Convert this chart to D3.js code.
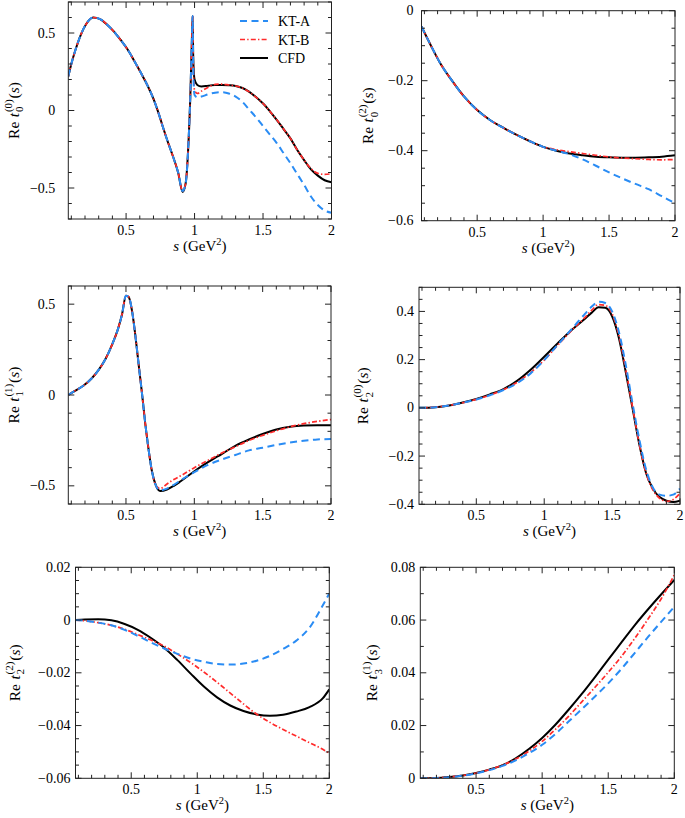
<!DOCTYPE html>
<html><head><meta charset="utf-8">
<script src="https://cdn.jsdelivr.net/npm/d3@7"></script>
<style>
body{margin:0;background:#fff}
svg{display:block}
</style>
</head><body>
<svg id="c" width="685" height="818"></svg>
<script>
// ---------------- DATA ----------------
const X_TICKS = [0.5, 1, 1.5, 2];
const X_TICK_LABELS = ["0.5", "1", "1.5", "2"];
const SERIES_NAMES = ["KT-A", "KT-B", "CFD"];

// Re t0^(0)
const S_T00 = [0.078,0.1,0.13,0.17,0.21,0.26,0.31,0.36,0.41,0.46,0.51,0.56,0.61,0.66,0.70,0.74,0.77,0.80,0.84,0.88,0.913,0.935,0.955,0.970,0.980,0.986,0.990,0.995,1.00,1.02,1.05,1.10,1.15,1.20,1.25,1.30,1.35,1.40,1.45,1.50,1.55,1.60,1.65,1.70,1.75,1.80,1.85,1.90,1.95,2.00];
const T00_CFD = [0.22,0.30,0.39,0.49,0.56,0.60,0.59,0.555,0.51,0.455,0.395,0.32,0.24,0.155,0.075,-0.025,-0.11,-0.19,-0.29,-0.40,-0.525,-0.47,-0.22,0.12,0.44,0.61,0.36,0.24,0.20,0.165,0.155,0.16,0.165,0.165,0.163,0.158,0.145,0.12,0.085,0.045,-0.005,-0.06,-0.12,-0.18,-0.255,-0.32,-0.38,-0.42,-0.45,-0.463];
const T00_KTB = [0.22,0.30,0.39,0.49,0.56,0.60,0.59,0.555,0.51,0.455,0.395,0.32,0.24,0.155,0.075,-0.025,-0.11,-0.19,-0.29,-0.40,-0.52,-0.47,-0.22,0.12,0.44,0.61,0.34,0.18,0.13,0.11,0.125,0.15,0.168,0.17,0.165,0.158,0.145,0.12,0.085,0.045,-0.005,-0.06,-0.12,-0.18,-0.255,-0.32,-0.375,-0.405,-0.412,-0.408];
const T00_KTA = [0.22,0.30,0.39,0.49,0.56,0.60,0.59,0.555,0.51,0.455,0.395,0.32,0.24,0.155,0.075,-0.025,-0.11,-0.19,-0.29,-0.40,-0.52,-0.47,-0.22,0.12,0.44,0.61,0.30,0.14,0.10,0.085,0.09,0.105,0.115,0.118,0.11,0.09,0.055,0.005,-0.045,-0.10,-0.155,-0.21,-0.275,-0.34,-0.41,-0.48,-0.555,-0.61,-0.645,-0.66];
const T00_Y_TICKS = [-0.5, 0, 0.5];
const T00_Y_LABELS = ["−0.5", "0", "0.5"];

// Re t0^(2)
const S_T02 = [0.078,0.15,0.22,0.3,0.4,0.5,0.6,0.7,0.8,0.9,1.0,1.1,1.2,1.3,1.4,1.5,1.6,1.7,1.8,1.9,2.0];
const T02_CFD = [-0.045,-0.10,-0.15,-0.195,-0.245,-0.284,-0.313,-0.335,-0.355,-0.373,-0.389,-0.40,-0.408,-0.413,-0.417,-0.419,-0.42,-0.42,-0.419,-0.417,-0.413];
const T02_KTB = [-0.045,-0.10,-0.15,-0.195,-0.245,-0.284,-0.313,-0.335,-0.355,-0.373,-0.389,-0.397,-0.403,-0.408,-0.413,-0.418,-0.421,-0.423,-0.425,-0.426,-0.425];
const T02_KTA = [-0.045,-0.10,-0.15,-0.195,-0.245,-0.284,-0.313,-0.335,-0.355,-0.373,-0.389,-0.40,-0.41,-0.425,-0.443,-0.462,-0.479,-0.495,-0.51,-0.53,-0.55];
const T02_Y_TICKS = [-0.6, -0.4, -0.2, 0];
const T02_Y_LABELS = ["−0.6", "−0.4", "−0.2", "0"];

// Re t1^(1)
const S_T11 = [0.078,0.12,0.19,0.25,0.3,0.35,0.4,0.44,0.47,0.5,0.52,0.545,0.565,0.585,0.6,0.62,0.64,0.66,0.69,0.72,0.75,0.8,0.85,0.9,1.0,1.1,1.2,1.3,1.4,1.5,1.6,1.7,1.8,1.9,2.0];
const T11_CFD = [0,0.02,0.052,0.092,0.138,0.198,0.28,0.36,0.44,0.547,0.54,0.46,0.35,0.22,0.12,-0.01,-0.15,-0.27,-0.42,-0.50,-0.528,-0.52,-0.50,-0.475,-0.42,-0.37,-0.325,-0.28,-0.245,-0.215,-0.19,-0.175,-0.168,-0.166,-0.167];
const T11_KTB = [0,0.02,0.052,0.092,0.138,0.198,0.28,0.36,0.44,0.547,0.54,0.46,0.35,0.22,0.12,-0.01,-0.15,-0.27,-0.42,-0.50,-0.515,-0.49,-0.465,-0.445,-0.40,-0.36,-0.32,-0.285,-0.25,-0.222,-0.197,-0.175,-0.158,-0.145,-0.135];
const T11_KTA = [0,0.02,0.052,0.092,0.138,0.198,0.28,0.36,0.44,0.547,0.54,0.46,0.35,0.22,0.12,-0.01,-0.15,-0.27,-0.42,-0.50,-0.525,-0.515,-0.495,-0.47,-0.425,-0.385,-0.355,-0.33,-0.305,-0.29,-0.275,-0.262,-0.252,-0.245,-0.242];
const T11_Y_TICKS = [-0.5, 0, 0.5];
const T11_Y_LABELS = ["−0.5", "0", "0.5"];

// Re t2^(0)
const S_T20 = [0.078,0.2,0.3,0.4,0.5,0.6,0.7,0.8,0.9,1.0,1.1,1.2,1.3,1.35,1.4,1.45,1.5,1.55,1.6,1.65,1.7,1.75,1.8,1.85,1.9,1.95,2.0];
const T20_CFD = [0,0.003,0.01,0.022,0.037,0.056,0.078,0.112,0.158,0.212,0.268,0.322,0.37,0.395,0.417,0.415,0.38,0.29,0.15,0.0,-0.15,-0.27,-0.335,-0.37,-0.385,-0.39,-0.385];
const T20_KTB = [0,0.003,0.01,0.021,0.035,0.053,0.076,0.106,0.147,0.198,0.26,0.32,0.375,0.405,0.428,0.425,0.39,0.30,0.16,0.005,-0.15,-0.27,-0.34,-0.375,-0.388,-0.38,-0.355];
const T20_KTA = [0,0.003,0.01,0.021,0.035,0.052,0.074,0.102,0.143,0.198,0.262,0.325,0.39,0.42,0.44,0.435,0.40,0.315,0.18,0.02,-0.13,-0.255,-0.33,-0.36,-0.365,-0.36,-0.335];
const T20_Y_TICKS = [-0.4, -0.2, 0, 0.2, 0.4];
const T20_Y_LABELS = ["−0.4", "−0.2", "0", "0.2", "0.4"];

// Re t2^(2)
const S_T22 = [0.078,0.15,0.25,0.35,0.45,0.55,0.65,0.75,0.85,0.95,1.05,1.15,1.25,1.35,1.45,1.55,1.65,1.75,1.85,1.95,2.0];
const T22_CFD = [0,0.0002,0.0003,-0.0001,-0.0015,-0.0037,-0.0068,-0.0105,-0.0152,-0.0203,-0.0252,-0.0293,-0.0324,-0.0345,-0.0358,-0.0363,-0.0359,-0.0347,-0.033,-0.0297,-0.0263];
const T22_KTB = [0,-0.0003,-0.001,-0.002,-0.0035,-0.0055,-0.0076,-0.0099,-0.0129,-0.0161,-0.0197,-0.0236,-0.0277,-0.0318,-0.0357,-0.0388,-0.0415,-0.044,-0.0465,-0.049,-0.0505];
const T22_KTA = [0,-0.0003,-0.001,-0.002,-0.0037,-0.006,-0.0085,-0.0108,-0.0128,-0.0146,-0.0158,-0.0167,-0.0169,-0.0165,-0.0154,-0.0136,-0.011,-0.0078,-0.0029,0.0055,0.0101];
const T22_Y_TICKS = [-0.06, -0.04, -0.02, 0, 0.02];
const T22_Y_LABELS = ["−0.06", "−0.04", "−0.02", "0", "0.02"];

// Re t3^(1)
const S_T31 = [0.078,0.2,0.3,0.4,0.5,0.6,0.7,0.8,0.9,1.0,1.1,1.2,1.3,1.4,1.5,1.6,1.7,1.8,1.9,2.0];
const T31_CFD = [0,0.0001,0.0005,0.0011,0.002,0.0033,0.005,0.0076,0.0111,0.0153,0.0203,0.026,0.032,0.0384,0.045,0.0515,0.058,0.064,0.0697,0.0752];
const T31_KTB = [0,0.0001,0.0005,0.0011,0.002,0.0033,0.005,0.0073,0.0103,0.014,0.0185,0.0235,0.029,0.0345,0.0402,0.0462,0.053,0.0603,0.068,0.0771];
const T31_KTA = [0,0.0001,0.0004,0.001,0.0019,0.0031,0.0047,0.0068,0.0095,0.0127,0.0168,0.0215,0.0262,0.031,0.036,0.0415,0.0475,0.0535,0.0593,0.065];
const T31_Y_TICKS = [0, 0.02, 0.04, 0.06, 0.08];
const T31_Y_LABELS = ["0", "0.02", "0.04", "0.06", "0.08"];

// ---------------- LAYOUT ----------------
const panels = [
  {box:[68.3,2,331.5,219], yDom:[-0.7,0.7], yMinor:0.1, s:S_T00, A:T00_KTA, B:T00_KTB, C:T00_CFD, yt:T00_Y_TICKS, yl:T00_Y_LABELS, sup:"(0)", sub:"0", labelX:18.5, pad:13, legend:true},
  {box:[421.5,10.7,675,220.7], yDom:[-0.6,0], yMinor:0.05, s:S_T02, A:T02_KTA, B:T02_KTB, C:T02_CFD, yt:T02_Y_TICKS, yl:T02_Y_LABELS, sup:"(2)", sub:"0", labelX:373, pad:8},
  {box:[68.3,286,331,504], yDom:[-0.6,0.6], yMinor:0.1, s:S_T11, A:T11_KTA, B:T11_KTB, C:T11_CFD, yt:T11_Y_TICKS, yl:T11_Y_LABELS, sup:"(1)", sub:"1", labelX:18.5, pad:13},
  {box:[419,287.3,680,504.3], yDom:[-0.4,0.5], yMinor:0.05, s:S_T20, A:T20_KTA, B:T20_KTB, C:T20_CFD, yt:T20_Y_TICKS, yl:T20_Y_LABELS, sup:"(0)", sub:"2", labelX:368, pad:5},
  {box:[75.5,567.3,329.3,778.3], yDom:[-0.06,0.02], yMinor:0.005, s:S_T22, A:T22_KTA, B:T22_KTB, C:T22_CFD, yt:T22_Y_TICKS, yl:T22_Y_LABELS, sup:"(2)", sub:"2", labelX:19.5, pad:5},
  {box:[420.3,567.3,674.3,778.3], yDom:[0,0.08], yMinor:0.01, s:S_T31, A:T31_KTA, B:T31_KTB, C:T31_CFD, yt:T31_Y_TICKS, yl:T31_Y_LABELS, sup:"(1)", sub:"3", labelX:377, pad:5}
];

const styles = {
  C:{color:"#000000", width:2.0, dash:null},
  B:{color:"#ff2b2b", width:1.7, dash:"5,2.2,1.4,2.2"},
  A:{color:"#2a8cf4", width:2.0, dash:"7,4.5"}
};

const svg = d3.select("#c");

// pick an installed serif face by measuring against monospace fallback
function pickFont() {
  const cands = ["Liberation Serif", "DejaVu Serif", "Noto Serif", "Times New Roman", "Tinos", "FreeSerif"];
  const probe = "abcdefghijklmnopqrstuvwxyz ABCDEFGHIJKLMNOPQRSTUVWXYZ 0123456789";
  const t = svg.append("text").attr("font-size", 40).attr("y", -100).text(probe);
  const w = f => { t.attr("font-family", f); return t.node().getComputedTextLength(); };
  const base1 = w("monospace"), base2 = w("sans-serif");
  let found = null;
  for (const c of cands) {
    const a = w(`"${c}", monospace`), b = w(`"${c}", sans-serif`);
    if (Math.abs(a - base1) > 0.5 && Math.abs(b - base2) > 0.5) { found = c; break; }
    if (Math.abs(a - b) < 0.01 && Math.abs(a - base1) > 0.5) { found = c; break; }
  }
  t.remove();
  return found ? `"${found}", serif` : "serif";
}
const FONT = pickFont();
const FS = 14;

function txt(sel) { return sel.append("text").attr("font-family", FONT).attr("fill", "#000"); }

panels.forEach((p, i) => {
  const [x0, y0, x1, y1] = p.box;
  const x = d3.scaleLinear().domain([0.078, 2]).range([x0, x1]);
  const y = d3.scaleLinear().domain(p.yDom).range([y1, y0]);
  const g = svg.append("g");

  const clipId = "clip" + i;
  g.append("clipPath").attr("id", clipId).append("rect")
    .attr("x", x0).attr("y", y0).attr("width", x1 - x0).attr("height", y1 - y0);

  const line = d3.line().x(d => x(d[0])).y(d => y(d[1])).curve(d3.curveMonotoneX);
  ["C","B","A"].forEach(k => {
    const st = styles[k];
    const pts = p.s.map((s, j) => [s, p[k][j]]);
    g.append("path").attr("clip-path", `url(#${clipId})`)
      .attr("d", line(pts)).attr("fill", "none")
      .attr("stroke", st.color).attr("stroke-width", st.width)
      .attr("stroke-dasharray", st.dash)
      .attr("stroke-linejoin", "round");
  });

  g.append("rect").attr("x", x0).attr("y", y0).attr("width", x1 - x0).attr("height", y1 - y0)
    .attr("fill", "none").attr("stroke", "#222").attr("stroke-width", 1);

  const tk = g.append("g").attr("stroke", "#222").attr("stroke-width", 1);
  const xMinor = d3.range(0.1, 2.0001, 0.1).filter(v => Math.abs(v * 2 - Math.round(v * 2)) > 1e-6);
  xMinor.forEach(v => {
    tk.append("line").attr("x1", x(v)).attr("x2", x(v)).attr("y1", y1).attr("y2", y1 - 3.5);
    tk.append("line").attr("x1", x(v)).attr("x2", x(v)).attr("y1", y0).attr("y2", y0 + 3.5);
  });
  X_TICKS.forEach(v => {
    tk.append("line").attr("x1", x(v)).attr("x2", x(v)).attr("y1", y1).attr("y2", y1 - 6);
    tk.append("line").attr("x1", x(v)).attr("x2", x(v)).attr("y1", y0).attr("y2", y0 + 6);
  });
  const [ya, yb] = p.yDom;
  const nMin = Math.round((yb - ya) / p.yMinor);
  for (let k = 0; k <= nMin; k++) {
    const v = ya + k * p.yMinor;
    const isMajor = p.yt.some(t => Math.abs(t - v) < p.yMinor * 1e-3);
    const L = isMajor ? 6 : 3.5;
    tk.append("line").attr("x1", x0).attr("x2", x0 + L).attr("y1", y(v)).attr("y2", y(v));
    tk.append("line").attr("x1", x1).attr("x2", x1 - L).attr("y1", y(v)).attr("y2", y(v));
  }

  X_TICKS.forEach((v, j) => {
    txt(g).attr("x", x(v)).attr("y", y1 + 16).attr("text-anchor", "middle")
      .attr("font-size", FS).text(X_TICK_LABELS[j]);
  });
  p.yt.forEach((v, j) => {
    txt(g).attr("x", x0 - p.pad).attr("y", y(v) + 4.5).attr("text-anchor", "end")
      .attr("font-size", FS).text(p.yl[j]);
  });

  const xl = txt(g).attr("x", (x0 + x1) / 2).attr("y", y1 + 32)
    .attr("text-anchor", "middle").attr("font-size", 15);
  xl.append("tspan").attr("font-style", "italic").text("s");
  xl.append("tspan").text(" (GeV");
  xl.append("tspan").attr("font-size", 10.5).attr("dy", -6).text("2");
  xl.append("tspan").attr("dy", 6).text(")");

  const lg = g.append("g").attr("transform", `translate(${p.labelX},${(y0 + y1) / 2}) rotate(-90)`);
  let cx = 0;
  const add = (t, opt) => txt(lg).attr("x", cx).attr("y", opt.dy || 0)
      .attr("font-size", opt.fs || 15.5).attr("font-style", opt.it ? "italic" : "normal").text(t);
  const r = add("Re", {}); cx += r.node().getComputedTextLength() + 4.5;
  const tt = add("t", {it:true}); cx += tt.node().getComputedTextLength() + 0.8;
  const sp = add(p.sup, {fs:11, dy:-7});
  const sb = add(p.sub, {fs:11, dy:4.5});
  cx += Math.max(sp.node().getComputedTextLength(), sb.node().getComputedTextLength()) + 0.8;
  const t3 = txt(lg).attr("x", cx).attr("font-size", 15.5);
  t3.append("tspan").text("(");
  t3.append("tspan").attr("font-style", "italic").text("s");
  t3.append("tspan").text(")");
  cx += t3.node().getComputedTextLength();
  lg.selectAll("text").each(function() {
    const el = d3.select(this);
    el.attr("x", +el.attr("x") - cx / 2);
  });

  if (p.legend) {
    const rows = [["A", 21], ["B", 39.5], ["C", 58]];
    rows.forEach(([k, yy], j) => {
      const st = styles[k];
      g.append("line").attr("x1", 240).attr("x2", 268).attr("y1", yy).attr("y2", yy)
        .attr("stroke", st.color).attr("stroke-width", st.width).attr("stroke-dasharray", st.dash);
      txt(g).attr("x", 278).attr("y", yy + 5).attr("font-size", FS).text(SERIES_NAMES[j]);
    });
  }
});
</script>
</body></html>
